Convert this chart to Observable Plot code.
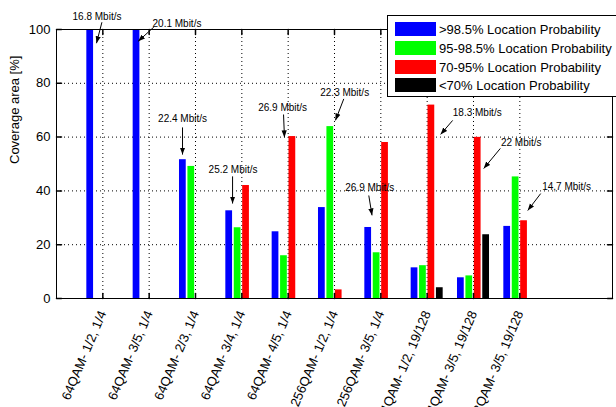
<!DOCTYPE html>
<html>
<head>
<meta charset="utf-8">
<script src="https://cdn.jsdelivr.net/npm/d3@7"></script>
<script src="https://cdn.jsdelivr.net/npm/@observablehq/plot@0.6"></script>
<style>
  body { margin: 0; background: #fff; }
  #wrap { position: relative; width: 616px; height: 407px; overflow: hidden; font-family: "Liberation Sans", Arial, sans-serif; background: #fff; }
  #legend { position: absolute; left: 387px; top: 15px; width: 240px; height: 82px; border: 1px solid #000; background: #fff; box-sizing: border-box; }
  .row { position: absolute; left: 7px; height: 14px; display: flex; align-items: center; font-size: 13px; white-space: nowrap; color: #000; }
  .sw { width: 41px; height: 14px; margin-right: 3px; flex: none; }
</style>
</head>
<body>
<div id="wrap"><div id="chart"></div><div id="legend"></div></div>
<script>
// ---- data ----
const categories = ["64QAM- 1/2, 1/4", "64QAM- 3/5, 1/4", "64QAM- 2/3, 1/4", "64QAM- 3/4, 1/4", "64QAM- 4/5, 1/4",
  "256QAM- 1/2, 1/4", "256QAM- 3/5, 1/4", "4QAM- 1/2, 19/128", "4QAM- 3/5, 19/128", "8QAM- 3/5, 19/128"];
const seriesNames = [">98.5% Location Probability", "95-98.5% Location Probability", "70-95% Location Probability", "<70% Location Probability"];
const seriesColors = ["#0000ff", "#00ff00", "#ff0000", "#000000"];
const blueValues  = [100, 100, 51.6, 32.6, 24.8, 33.8, 26.4, 11.4, 7.7, 26.8];
const greenValues = [0, 0, 49.1, 26.3, 15.9, 63.9, 17.0, 12.2, 8.4, 45.2];
const redValues   = [0, 0, 0, 42.0, 60.2, 3.2, 58.0, 71.9, 59.9, 28.9];
const blackValues = [0, 0, 0, 0, 0, 0, 0, 4.0, 23.7, 0];
const yTicks = [0, 20, 40, 60, 80, 100];
const xTicks = [1, 2, 3, 4, 5, 6, 7, 8, 9, 10];
const yLabel = "Coverage area [%]";

// annotations (data coordinates)
const annLabels = ["16.8 Mbit/s", "20.1 Mbit/s", "22.4 Mbit/s", "26.9 Mbit/s", "25.2 Mbit/s", "22.3 Mbit/s", "26.9 Mbit/s", "18.3 Mbit/s", "22 Mbit/s", "14,7 Mbit/s"];
const annTextX = [0.874, 2.60, 2.72, 4.88, 3.81, 6.22, 6.76, 9.08, 10.03, 11.01];
const annTextY = [104.9, 102.2, 66.8, 71.0, 48.0, 76.5, 41.2, 69.1, 58.0, 41.6];
const annFromX = [0.98, 2.10, 2.72, 4.90, 3.80, 6.20, 6.74, 8.55, 9.58, 10.45];
const annFromY = [102.7, 100.9, 63.6, 68.4, 45.4, 74.2, 38.3, 66.2, 55.8, 39.0];
const annToX   = [0.863, 1.763, 2.72, 4.92, 3.80, 6.02, 6.81, 8.29, 9.22, 10.17];
const annToY   = [94.9, 95.6, 53.5, 59.9, 35.3, 66.2, 30.9, 61.0, 48.3, 32.7];

// ---- build tables ----
const seriesValues = [blueValues, greenValues, redValues, blackValues];
const bars = [];
seriesValues.forEach((vals, s) => vals.forEach((v, i) => { if (v > 0) bars.push({g: i + 1, s, name: seriesNames[s], v}); }));
const annotations = annLabels.map((label, i) => ({label, tx: annTextX[i], ty: annTextY[i], x1: annFromX[i], y1: annFromY[i], x2: annToX[i], y2: annToY[i]}));

const nS = seriesNames.length;
const groupWidth = Math.min(0.8, nS / (nS + 1.5));
const barW = 0.8 * groupWidth / nS;
const center = d => d.g + (d.s - (nS - 1) / 2) * groupWidth / nS;

const tickShape = {draw(ctx, l) { ctx.moveTo(0, 0); ctx.lineTo(0, -l); }};
const arrowHead = (color) => {
  const m = d3.create("svg:marker")
    .attr("viewBox", "-7 -3 7 6").attr("markerWidth", 7).attr("markerHeight", 6)
    .attr("markerUnits", "userSpaceOnUse").attr("orient", "auto")
    .attr("fill", "black").attr("stroke", "none");
  m.append("path").attr("d", "M-7,-2.6L0,0L-7,2.6Z");
  return m.node();
};
const dotted = {stroke: "#000", strokeOpacity: 1, strokeDasharray: "1,3", strokeWidth: 1};

const chart = Plot.plot({
  width: 616, height: 407,
  marginLeft: 56, marginRight: 4, marginTop: 29, marginBottom: 109,
  x: {domain: [0, 12], axis: null},
  y: {domain: [0, 100], axis: null},
  color: {type: "ordinal", domain: seriesNames, range: seriesColors},
  style: {fontFamily: "'Liberation Sans', Arial, sans-serif", background: "#fff", color: "#000", overflow: "visible"},
  marks: [
    Plot.gridX(xTicks, dotted),
    Plot.gridY(yTicks.filter(t => t > 0 && t < 100), dotted),
    Plot.rectY(bars, {x1: d => center(d) - barW / 2, x2: d => center(d) + barW / 2, y1: 0, y2: "v", fill: "name"}),
    Plot.frame({stroke: "#000", strokeWidth: 1}),
    Plot.vector(xTicks, {x: d => d, frameAnchor: "bottom", length: 5, rotate: 0, anchor: "start", shape: tickShape, stroke: "#000"}),
    Plot.vector(xTicks, {x: d => d, frameAnchor: "top", length: 5, rotate: 180, anchor: "start", shape: tickShape, stroke: "#000"}),
    Plot.vector(yTicks, {y: d => d, frameAnchor: "left", length: 5, rotate: 90, anchor: "start", shape: tickShape, stroke: "#000"}),
    Plot.vector(yTicks, {y: d => d, frameAnchor: "right", length: 5, rotate: -90, anchor: "start", shape: tickShape, stroke: "#000"}),
    Plot.axisY({ticks: yTicks, tickSize: 0, tickPadding: 6, fontSize: 13, label: null}),
    Plot.axisX({ticks: xTicks, tickFormat: d => categories[d - 1], tickSize: 0, tickPadding: 13, tickRotate: -67,
                textAnchor: "end", lineAnchor: "middle", fontSize: 13, label: null}),
    Plot.text([yLabel], {text: d => d, frameAnchor: "left", dx: -42, rotate: -90, fontSize: 13}),
    Plot.link(annotations, {x1: "x1", y1: "y1", x2: "x2", y2: "y2", stroke: "#000", strokeWidth: 1, markerEnd: arrowHead}),
    Plot.text(annotations, {x: "tx", y: "ty", text: "label", fontSize: 10})
  ]
});
document.getElementById("chart").appendChild(chart);

// legend
const legend = document.getElementById("legend");
const rowTops = [6, 25, 44, 62];
seriesNames.forEach((name, i) => {
  const row = document.createElement("div");
  row.className = "row";
  row.style.top = rowTops[i] + "px";
  const sw = document.createElement("div");
  sw.className = "sw";
  sw.style.background = seriesColors[i];
  const t = document.createElement("span");
  t.textContent = name;
  row.appendChild(sw); row.appendChild(t);
  legend.appendChild(row);
});
</script>
</body>
</html>
